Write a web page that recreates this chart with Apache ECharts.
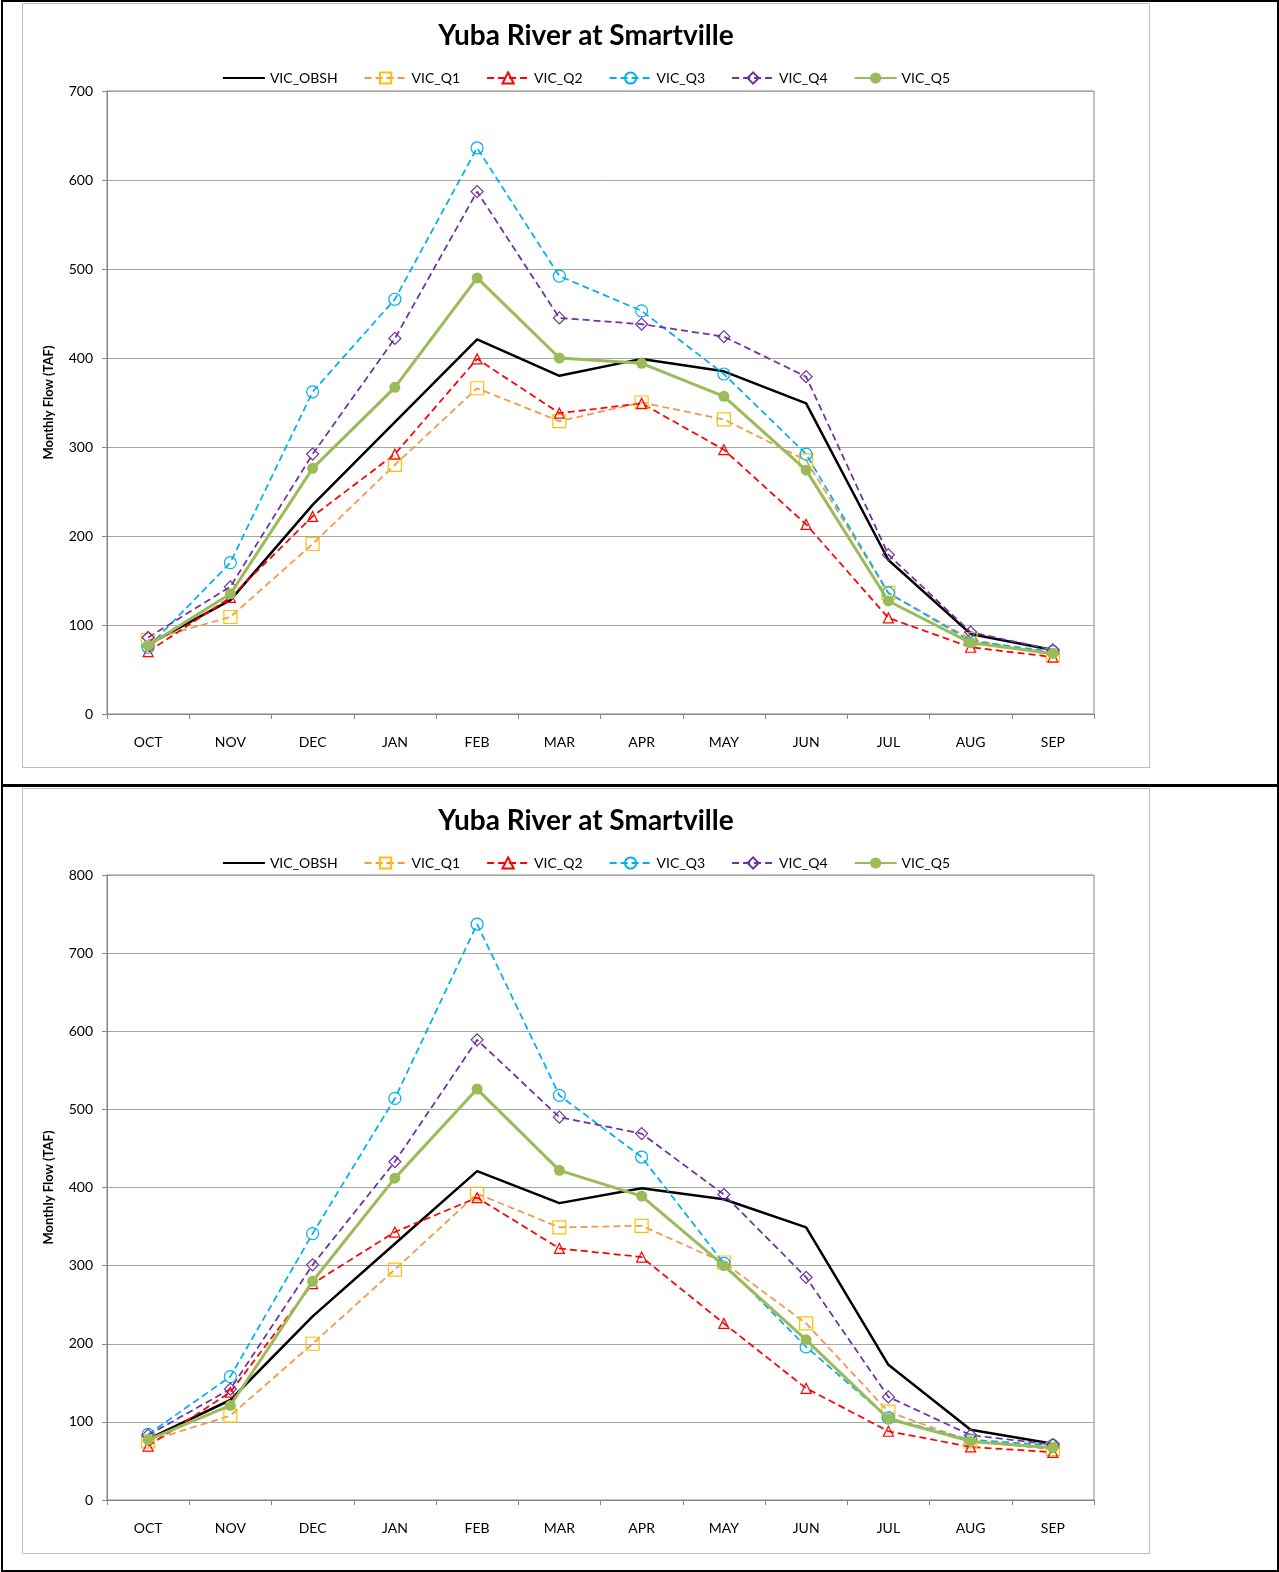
<!DOCTYPE html>
<html>
<head>
<meta charset="utf-8">
<title>Yuba River at Smartville</title>
<script src="https://cdn.jsdelivr.net/npm/echarts@6/dist/echarts.min.js"></script>
<style>
body{margin:0;background:#fff;}
#frame{position:absolute;left:1px;top:0;width:1278px;height:1572px;box-sizing:border-box;border:2px solid #000;}
#sep{position:absolute;left:1px;top:784px;width:1278px;height:3px;background:#000;}
.box{position:absolute;left:22px;width:1128px;box-sizing:border-box;border:1px solid #BFBFBF;background:#fff;}
#chart1{top:3px;height:765px;}
#chart2{top:788px;height:766px;}
</style>
</head>
<body>
<div id="frame"></div>
<div id="sep"></div>
<div id="chart1" class="box"></div>
<div id="chart2" class="box"></div>
<script>
var months = ['OCT', 'NOV', 'DEC', 'JAN', 'FEB', 'MAR', 'APR', 'MAY', 'JUN', 'JUL', 'AUG', 'SEP'];
var names = ['VIC_OBSH', 'VIC_Q1', 'VIC_Q2', 'VIC_Q3', 'VIC_Q4', 'VIC_Q5'];

// observed flow (same in both panels)
var obsh = [78, 128, 235, 328, 421, 380, 399, 385, 349, 173, 90, 72];

// top panel
var q1Top = [83, 109, 191, 280, 366, 329, 350, 331, 285, 136, 84, 66];
var q2Top = [70, 131, 222, 292, 399, 338, 349, 297, 213, 108, 75, 64];
var q3Top = [75, 170, 362, 466, 636, 492, 453, 382, 292, 136, 82, 70];
var q4Top = [86, 143, 292, 422, 587, 445, 438, 424, 379, 179, 92, 72];
var q5Top = [77, 135, 276, 367, 490, 400, 394, 357, 274, 127, 80, 68];

// bottom panel
var q1Bot = [75, 108, 200, 295, 392, 349, 351, 304, 226, 113, 75, 65];
var q2Bot = [69, 138, 277, 343, 387, 322, 311, 226, 143, 88, 68, 61];
var q3Bot = [84, 158, 341, 514, 737, 518, 439, 303, 196, 105, 77, 70];
var q4Bot = [83, 142, 301, 433, 589, 490, 469, 391, 285, 132, 83, 71];
var q5Bot = [77, 121, 280, 412, 526, 422, 389, 300, 205, 104, 75, 67];

var FONT = 'Lato';

function dashed(name, data, lineColor, markColor, symbol, size) {
  return {
    name: name, type: 'line', data: data,
    symbol: symbol, symbolSize: size,
    lineStyle: {color: lineColor, width: 1.75, type: [7, 4]},
    itemStyle: {color: 'rgba(255,255,255,0)', borderColor: markColor, borderWidth: 1.2},
    z: 3
  };
}

function makeOption(yMax, data) {
  return {
    animation: false,
    textStyle: {fontFamily: FONT},
    title: {
      text: 'Yuba River at Smartville', left: 'center', top: 13,
      textStyle: {fontFamily: FONT, fontWeight: 'bold', fontSize: 28, color: '#000'}
    },
    legend: {
      data: names, left: 'center', top: 67, padding: 0,
      itemWidth: 42, itemHeight: 14, itemGap: 26,
      textStyle: {fontFamily: FONT, fontSize: 14, color: '#000'}
    },
    grid: {left: 84, right: 55, top: 87, bottom: 53, show: true, borderColor: '#868686', borderWidth: 1},
    xAxis: {
      type: 'category', data: months, boundaryGap: true,
      axisLine: {lineStyle: {color: '#868686'}},
      axisTick: {show: true, interval: 0, length: 5, lineStyle: {color: '#868686'}},
      axisLabel: {color: '#000', fontSize: 14, fontFamily: FONT, margin: 21}
    },
    yAxis: {
      type: 'value', min: 0, max: yMax, interval: 100,
      name: 'Monthly Flow (TAF)', nameLocation: 'middle', nameGap: 52,
      nameTextStyle: {fontFamily: FONT, fontWeight: 'bold', fontSize: 13, color: '#000'},
      axisLine: {show: true, lineStyle: {color: '#868686'}},
      axisTick: {show: true, length: 5, lineStyle: {color: '#868686'}},
      axisLabel: {color: '#000', fontSize: 14, fontFamily: FONT, margin: 14},
      splitLine: {lineStyle: {color: '#A6A6A6', width: 1}}
    },
    series: [
      {name: 'VIC_OBSH', type: 'line', data: obsh, symbol: 'none',
        lineStyle: {color: '#000', width: 2.5}, itemStyle: {color: 'rgba(0,0,0,0)'}, z: 2},
      dashed('VIC_Q1', data[0], '#F79646', '#FFC000', 'rect', 13),
      dashed('VIC_Q2', data[1], '#FF0000', '#FF0000', 'triangle', 10),
      dashed('VIC_Q3', data[2], '#00B0F0', '#00B0F0', 'circle', 12),
      dashed('VIC_Q4', data[3], '#7030A0', '#7030A0', 'diamond', 12),
      {name: 'VIC_Q5', type: 'line', data: data[4], symbol: 'circle', symbolSize: 11,
        lineStyle: {color: '#9BBB59', width: 3}, itemStyle: {color: '#9BBB59'}, z: 4}
    ]
  };
}

var c1 = echarts.init(document.getElementById('chart1'));
c1.setOption(makeOption(700, [q1Top, q2Top, q3Top, q4Top, q5Top]));

var c2 = echarts.init(document.getElementById('chart2'));
var opt2 = makeOption(800, [q1Bot, q2Bot, q3Bot, q4Bot, q5Bot]);
opt2.grid.top = 86;
c2.setOption(opt2);
</script>
</body>
</html>
